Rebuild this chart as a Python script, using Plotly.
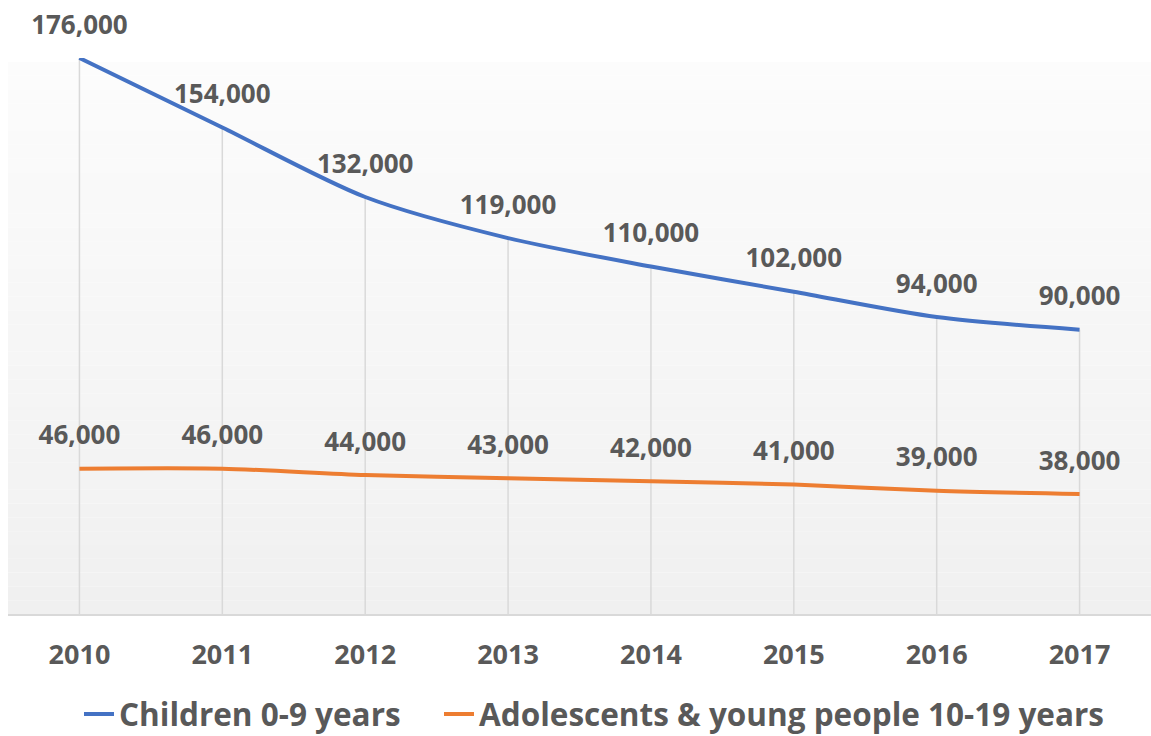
import plotly.graph_objects as go

years = ["2010", "2011", "2012", "2013", "2014", "2015", "2016", "2017"]
children = [176000, 154000, 132000, 119000, 110000, 102000, 94000, 90000]
adolescents = [46000, 46000, 44000, 43000, 42000, 41000, 39000, 38000]
series_names = ["Children 0-9 years", "Adolescents & young people 10-19 years"]
series_colors = ["#4472C4", "#ED7D31"]

TXT = "#595959"
FONT = "Open Sans"
LABEL_SIZE = 26

fig = go.Figure()

# drop lines from the highest point of each category to the axis
dx, dy = [], []
for i, yr in enumerate(years):
    dx += [yr, yr, None]
    dy += [max(children[i], adolescents[i]), 0, None]
fig.add_trace(go.Scatter(x=dx, y=dy, mode="lines", line=dict(color="#D9D9D9", width=1.5),
                         hoverinfo="skip", showlegend=False))

legend_ids = ["legend", "legend2"]
for name, vals, col, lg in zip(series_names, [children, adolescents], series_colors, legend_ids):
    fig.add_trace(go.Scatter(x=years, y=vals, name=f"<b>{name}</b>", mode="lines",
                             line=dict(color=col, width=4, shape="spline", smoothing=0.8),
                             cliponaxis=False, legend=lg))
    # data labels above each point (invisible marker sets the offset)
    fig.add_trace(go.Scatter(x=years, y=vals, mode="markers+text",
                             marker=dict(size=27, opacity=0),
                             text=[f"<b>{v:,}</b>" for v in vals],
                             textposition="top center",
                             textfont=dict(family=FONT, size=LABEL_SIZE, color=TXT),
                             cliponaxis=False, hoverinfo="skip", showlegend=False))

# gradient background for the plot area
n = 40
top = 0.993
for k in range(n):
    y0 = top * k / n
    y1 = top * (k + 1) / n
    t = (k + 0.5) / n  # 0 bottom -> 1 top
    g = int(round(240 + (252 - 240) * t))
    fig.add_shape(type="rect", xref="paper", yref="paper", x0=0, x1=1, y0=y0, y1=y1,
                  fillcolor=f"rgb({g},{g},{g})", line=dict(width=0), layer="below")

leg_common = dict(orientation="h", xanchor="left", yref="container",
                  y=(736 - 714) / 736, yanchor="middle",
                  font=dict(family=FONT, size=31.5, color=TXT), itemwidth=30,
                  bgcolor="rgba(0,0,0,0)")

fig.update_layout(
    width=1151, height=736,
    margin=dict(l=8, r=0, t=58, b=122, autoexpand=False),
    paper_bgcolor="white", plot_bgcolor="white",
    font=dict(family=FONT, color=TXT),
    showlegend=True,
    legend=dict(x=(79 - 8) / 1143, **leg_common),
    legend2=dict(x=(439 - 8) / 1143, **leg_common),
    xaxis=dict(type="category", range=[-0.5, 7.5], showgrid=False, zeroline=False,
               showline=True, linecolor="#D9D9D9", linewidth=2,
               ticks="", ticklabelstandoff=16,
               tickvals=years, ticktext=[f"<b>{y}</b>" for y in years],
               tickfont=dict(family=FONT, size=27, color=TXT)),
    yaxis=dict(range=[0, 176000], showgrid=False, zeroline=False, showline=False,
               showticklabels=False, ticks=""),
)

fig.write_html("out.html")
